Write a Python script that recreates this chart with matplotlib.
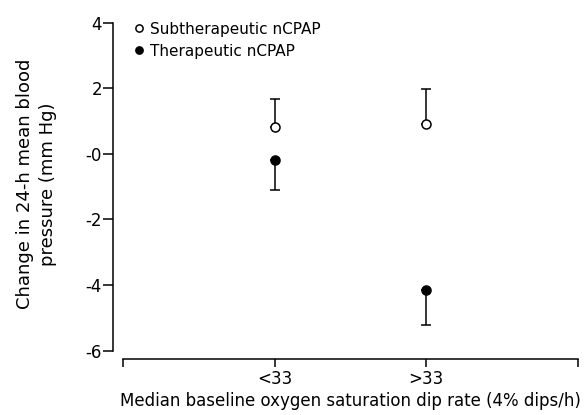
import matplotlib
matplotlib.use("Agg")
import matplotlib.pyplot as plt

groups = ["<33", ">33"]
sub_mean = [0.83, 0.92]
sub_err = [0.85, 1.05]
ther_mean = [-0.18, -4.14]
ther_err = [0.92, 1.08]
yticks = [4, 2, 0, -2, -4, -6]
ytick_labels = ["4", "2", "-0", "-2", "-4", "-6"]

plt.rcParams.update({
    "font.family": ["DejaVu Sans"],
    "axes.linewidth": 1.1,
})

fig = plt.figure(figsize=(5.88, 4.15), dpi=100)
ax = fig.add_axes([123 / 588, 1 - 350.7 / 415, 455 / 588, 328 / 415])

x = [1, 2]
ax.errorbar(x, sub_mean, yerr=[[0, 0], sub_err], fmt="o", mfc="white", mec="black",
            ecolor="black", ms=6.5, mew=1.1, elinewidth=1.1, capsize=3.5, capthick=1.1,
            zorder=3, label="Subtherapeutic nCPAP")
ax.errorbar(x, ther_mean, yerr=[ther_err, [0, 0]], fmt="o", mfc="black", mec="black",
            ecolor="black", ms=6.5, mew=1.1, elinewidth=1.1, capsize=3.5, capthick=1.1,
            zorder=3, label="Therapeutic nCPAP")

ax.set_xlim(0, 3)
ax.set_ylim(-6, 4)
ax.set_xticks([0, 1, 2, 3])
ax.set_xticklabels(["", groups[0], groups[1]] + [""])
ax.set_yticks(yticks)
ax.set_yticklabels(ytick_labels)
ax.tick_params(axis="both", direction="out", length=6, width=1.1, labelsize=12)
ax.tick_params(axis="y", length=7, pad=1)
ax.tick_params(axis="x", pad=2)

for side in ["top", "right"]:
    ax.spines[side].set_visible(False)
ax.spines["left"].set_position(("outward", 7.2))
ax.spines["bottom"].set_position(("outward", 6))

ax.set_ylabel("Change in 24-h mean blood\npressure (mm Hg)", fontsize=13, linespacing=1.35)
ax.yaxis.set_label_coords(-0.145, 0.508)
ax.set_xlabel("Median baseline oxygen saturation dip rate (4% dips/h)", fontsize=12.0,
              labelpad=3)

handles, labels = ax.get_legend_handles_labels()
handles = [h[0] for h in handles]
ax.legend(handles, labels, loc="upper left", bbox_to_anchor=(-0.012, 1.045), frameon=False,
          handletextpad=0.2, handlelength=1.0, labelspacing=0.45, fontsize=11,
          markerscale=0.8)

fig.savefig("out.png", dpi=100, facecolor="white")
